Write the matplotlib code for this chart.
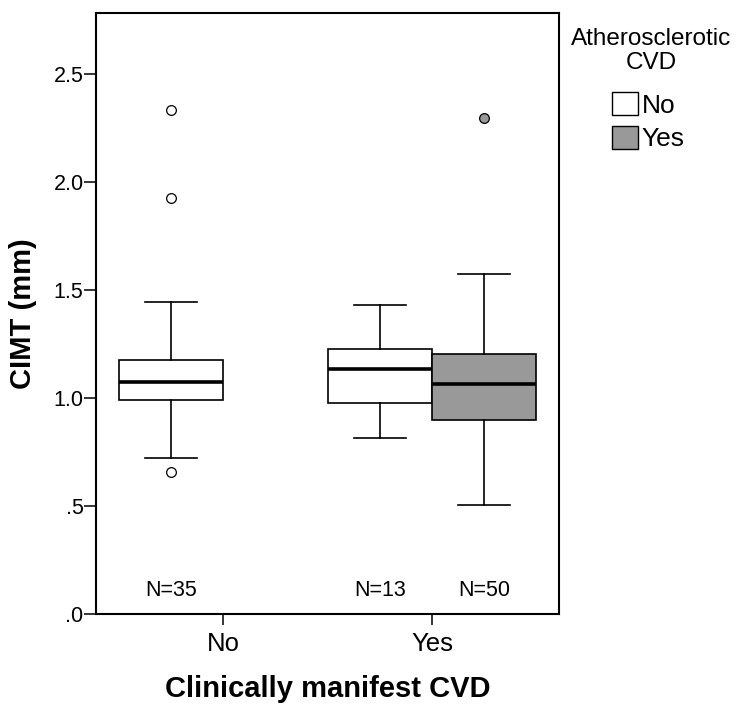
import matplotlib
matplotlib.use("Agg")
import matplotlib.pyplot as plt
from matplotlib.patches import Patch

plt.rcParams['font.family'] = ['Liberation Sans', 'DejaVu Sans']

# Clinically manifest CVD categories and atherosclerotic CVD subgroups
categories = ["No", "Yes"]
groups = ["No", "Yes"]
group_colors = ["white", "#999999"]

# Box summaries: (clinical category index, subgroup index)
box_cat = [0, 1, 1]
box_group = [0, 0, 1]
q1 = [0.988, 0.978, 0.897]
medians = [1.072, 1.135, 1.063]
q3 = [1.173, 1.226, 1.204]
whis_lo = [0.722, 0.814, 0.504]
whis_hi = [1.445, 1.428, 1.571]
fliers = [[2.331, 1.923, 0.656], [], [2.296]]
counts = [35, 13, 50]

offset = 0.25
box_w = 0.5

fig = plt.figure(figsize=(7.38, 7.06), dpi=100)
ax = fig.add_axes([96 / 738, 92 / 706, 463 / 738, 601 / 706])

for i in range(len(medians)):
    pos = box_cat[i] + (offset if box_group[i] else -offset)
    stats = [{
        "med": medians[i], "q1": q1[i], "q3": q3[i],
        "whislo": whis_lo[i], "whishi": whis_hi[i], "fliers": fliers[i],
    }]
    color = group_colors[box_group[i]]
    ax.bxp(stats, positions=[pos], widths=box_w, capwidths=box_w / 2,
           patch_artist=True, manage_ticks=False,
           boxprops=dict(facecolor=color, edgecolor="black", linewidth=1.2),
           medianprops=dict(color="black", linewidth=2.6, solid_capstyle="butt"),
           whiskerprops=dict(color="black", linewidth=1.2),
           capprops=dict(color="black", linewidth=1.2),
           flierprops=dict(marker="o", markerfacecolor=color, markeredgecolor="black",
                           markersize=7, markeredgewidth=0.9))
    ax.text(pos, 0.11, f"N={counts[i]}", ha="center", va="center", fontsize=15.5)

ax.set_xlim(-0.608, 1.608)
ax.set_ylim(0, 2.78)
ax.set_xticks(range(len(categories)))
ax.set_xticklabels(categories, fontsize=18.5)
yt = [0, 0.5, 1.0, 1.5, 2.0, 2.5]
ax.set_yticks(yt)
ax.set_yticklabels([f"{v:.1f}".lstrip("0") if v < 1 else f"{v:.1f}" for v in yt], fontsize=15.5)
ax.tick_params(axis="y", direction="out", length=8.5, width=1.1, pad=0.5)
ax.tick_params(axis="x", direction="out", length=8, width=1.1, pad=5)

for sp in ax.spines.values():
    sp.set_linewidth(1.5)

ax.set_ylabel("CIMT (mm)", fontsize=21, fontweight="bold")
ax.yaxis.set_label_coords(-0.127, 0.5)
ax.set_xlabel("Clinically manifest CVD", fontsize=21, fontweight="bold")
ax.xaxis.set_label_coords(0.5, -0.101)

# legend title drawn on its own so the gap above the entries can be set
fig.text(651 / 738, 1 - 28 / 706, "Atherosclerotic\nCVD", ha="center", va="top",
         fontsize=17.5, multialignment="center", linespacing=1.1)

handles = [Patch(facecolor=c, edgecolor="black", linewidth=1.0) for c in group_colors]
leg = fig.legend(handles, groups, loc="upper left",
                 bbox_to_anchor=(612 / 738, 1 - 92 / 706), frameon=False,
                 fontsize=19, handlelength=0.98, handleheight=0.98, handletextpad=0.15,
                 labelspacing=0.3, borderpad=0, borderaxespad=0)

fig.savefig("out.png", dpi=100)
